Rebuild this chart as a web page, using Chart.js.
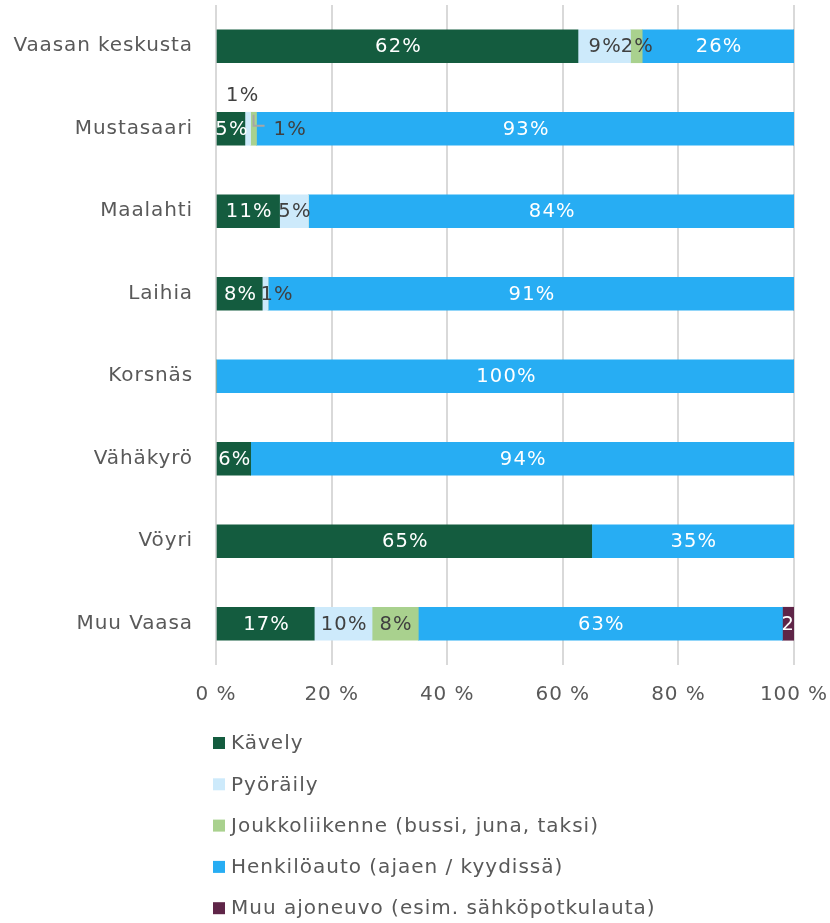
<!DOCTYPE html>
<html>
<head>
<meta charset="utf-8">
<script src="https://cdn.jsdelivr.net/npm/chart.js@4.4.1/dist/chart.umd.min.js"></script>
<style>
    body { margin: 0; background: #fff; }
    .chart-container { position: relative; width: 830px; height: 923px; }
</style>
</head>
<body>
<div class="chart-container"><canvas id="tripChart"></canvas></div>
<script>
// Data (shares in %, as labelled in the picture)
const categories = ['Vaasan keskusta', 'Mustasaari', 'Maalahti', 'Laihia', 'Korsnäs', 'Vähäkyrö', 'Vöyri', 'Muu Vaasa'];
const seriesNames = ['Kävely', 'Pyöräily', 'Joukkoliikenne (bussi, juna, taksi)', 'Henkilöauto (ajaen / kyydissä)', 'Muu ajoneuvo (esim. sähköpotkulauta)'];
const kavely = [62, 5, 11, 8, 0, 6, 65, 17];
const pyoraily = [9, 1, 5, 1, 0, 0, 0, 10];
const joukko = [2, 1, 0, 0, 0, 0, 0, 8];
const auto = [26, 93, 84, 91, 100, 94, 35, 63];
const muu = [0, 0, 0, 0, 0, 0, 0, 2];
const xTicks = [0, 20, 40, 60, 80, 100];

const allSeries = [kavely, pyoraily, joukko, auto, muu];
const colors = ['#145c3f', '#cdeafb', '#a9d18e', '#27adf3', '#5f2548'];
const labelColors = ['#fff', '#404040', '#404040', '#fff', '#fff'];

// 100 % stacked: scale each row to its own total
const rowTotals = categories.map((c, i) => allSeries.reduce((s, arr) => s + arr[i], 0));

const datasets = allSeries.map((arr, k) => ({
    label: seriesNames[k],
    raw: arr,
    data: arr.map((v, i) => v / rowTotals[i] * 100),
    backgroundColor: colors[k],
    labelColor: labelColors[k],
    borderWidth: 0,
    barThickness: 33
}));

const FONT = '"DejaVu Sans", Verdana, sans-serif';
const LABEL_FONT = '19.5px "DejaVu Sans", sans-serif';

// Wider letter spacing, closer to Verdana
const textSpacing = {
    id: 'textSpacing',
    beforeDraw(chart) { chart.ctx.letterSpacing = '0.9px'; }
};

// Data labels inside the bars
const barLabels = {
    id: 'barLabels',
    afterDatasetsDraw(chart) {
        const ctx = chart.ctx;
        const area = chart.chartArea;
        ctx.save();
        ctx.font = LABEL_FONT;
        ctx.letterSpacing = '1.2px';
        ctx.textBaseline = 'middle';
        chart.data.datasets.forEach((ds, di) => {
            chart.getDatasetMeta(di).data.forEach((bar, i) => {
                const v = ds.raw[i];
                if (!v) return;
                const text = v + '%';
                let x = (bar.x + bar.base) / 2 + 1;
                let y = bar.y + 1;

                // Mustasaari small shares are labelled outside the bar
                if (i === 1 && di === 1) {
                    ctx.fillStyle = '#404040';
                    ctx.textAlign = 'center';
                    ctx.fillText(text, x - 6, y - 34);
                    return;
                }
                if (i === 1 && di === 2) {
                    ctx.strokeStyle = '#a6a6a6';
                    ctx.lineWidth = 2;
                    ctx.beginPath();
                    ctx.moveTo(x - 1, bar.y - 14);
                    ctx.lineTo(x - 1, bar.y - 3);
                    ctx.lineTo(x + 10, bar.y - 3);
                    ctx.stroke();
                    ctx.fillStyle = '#404040';
                    ctx.textAlign = 'left';
                    ctx.fillText(text, x + 19, y);
                    return;
                }
                if (i === 3 && di === 1) x += 11;
                if (i === 7 && di === 4) x += 9;

                ctx.save();
                ctx.beginPath();
                ctx.rect(area.left, area.top, area.right - area.left, area.bottom - area.top);
                ctx.clip();
                ctx.fillStyle = ds.labelColor;
                ctx.textAlign = 'center';
                ctx.fillText(text, x, y);
                ctx.restore();
            });
        });
        ctx.restore();
    }
};

// Legend: one entry per row, under the axis
const stackedLegend = {
    id: 'stackedLegend',
    afterDraw(chart) {
        const ctx = chart.ctx;
        ctx.save();
        ctx.font = '20px ' + FONT;
        ctx.letterSpacing = '1px';
        ctx.textBaseline = 'middle';
        ctx.textAlign = 'left';
        chart.data.datasets.forEach((ds, k) => {
            const y = 743 + k * 41.3;
            ctx.fillStyle = ds.backgroundColor;
            ctx.fillRect(213, y - 6, 12, 12);
            ctx.fillStyle = '#595959';
            ctx.fillText(ds.label, 231, y + 1);
        });
        ctx.restore();
    }
};

const ctx = document.getElementById('tripChart').getContext('2d');
const tripChart = new Chart(ctx, {
    type: 'bar',
    data: { labels: categories, datasets: datasets },
    plugins: [textSpacing, barLabels, stackedLegend],
    options: {
        indexAxis: 'y',
        responsive: true,
        maintainAspectRatio: false,
        animation: false,
        layout: { padding: { top: 5, right: 36, bottom: 208, left: 0 } },
        plugins: {
            legend: { display: false },
            tooltip: { enabled: false }
        },
        scales: {
            x: {
                stacked: true,
                min: 0,
                max: 100,
                afterBuildTicks(scale) {
                    scale.ticks = xTicks.map(v => ({ value: v }));
                },
                afterFit(scale) {
                    scale.height = 50;
                    scale.paddingLeft = 0;
                    scale.paddingRight = 0;
                },
                ticks: {
                    padding: 18,
                    color: '#595959',
                    font: { family: FONT, size: 20 },
                    callback: v => v + ' %'
                },
                grid: { color: '#d9d9d9', lineWidth: 2, drawTicks: false },
                border: { display: false }
            },
            y: {
                stacked: true,
                afterFit(scale) {
                    scale.width = 216;
                    scale.paddingTop = 0;
                    scale.paddingBottom = 0;
                },
                ticks: {
                    padding: 23,
                    color: '#595959',
                    font: { family: FONT, size: 20 }
                },
                grid: { display: false, drawTicks: false },
                border: { display: false }
            }
        }
    }
});
</script>
</body>
</html>
